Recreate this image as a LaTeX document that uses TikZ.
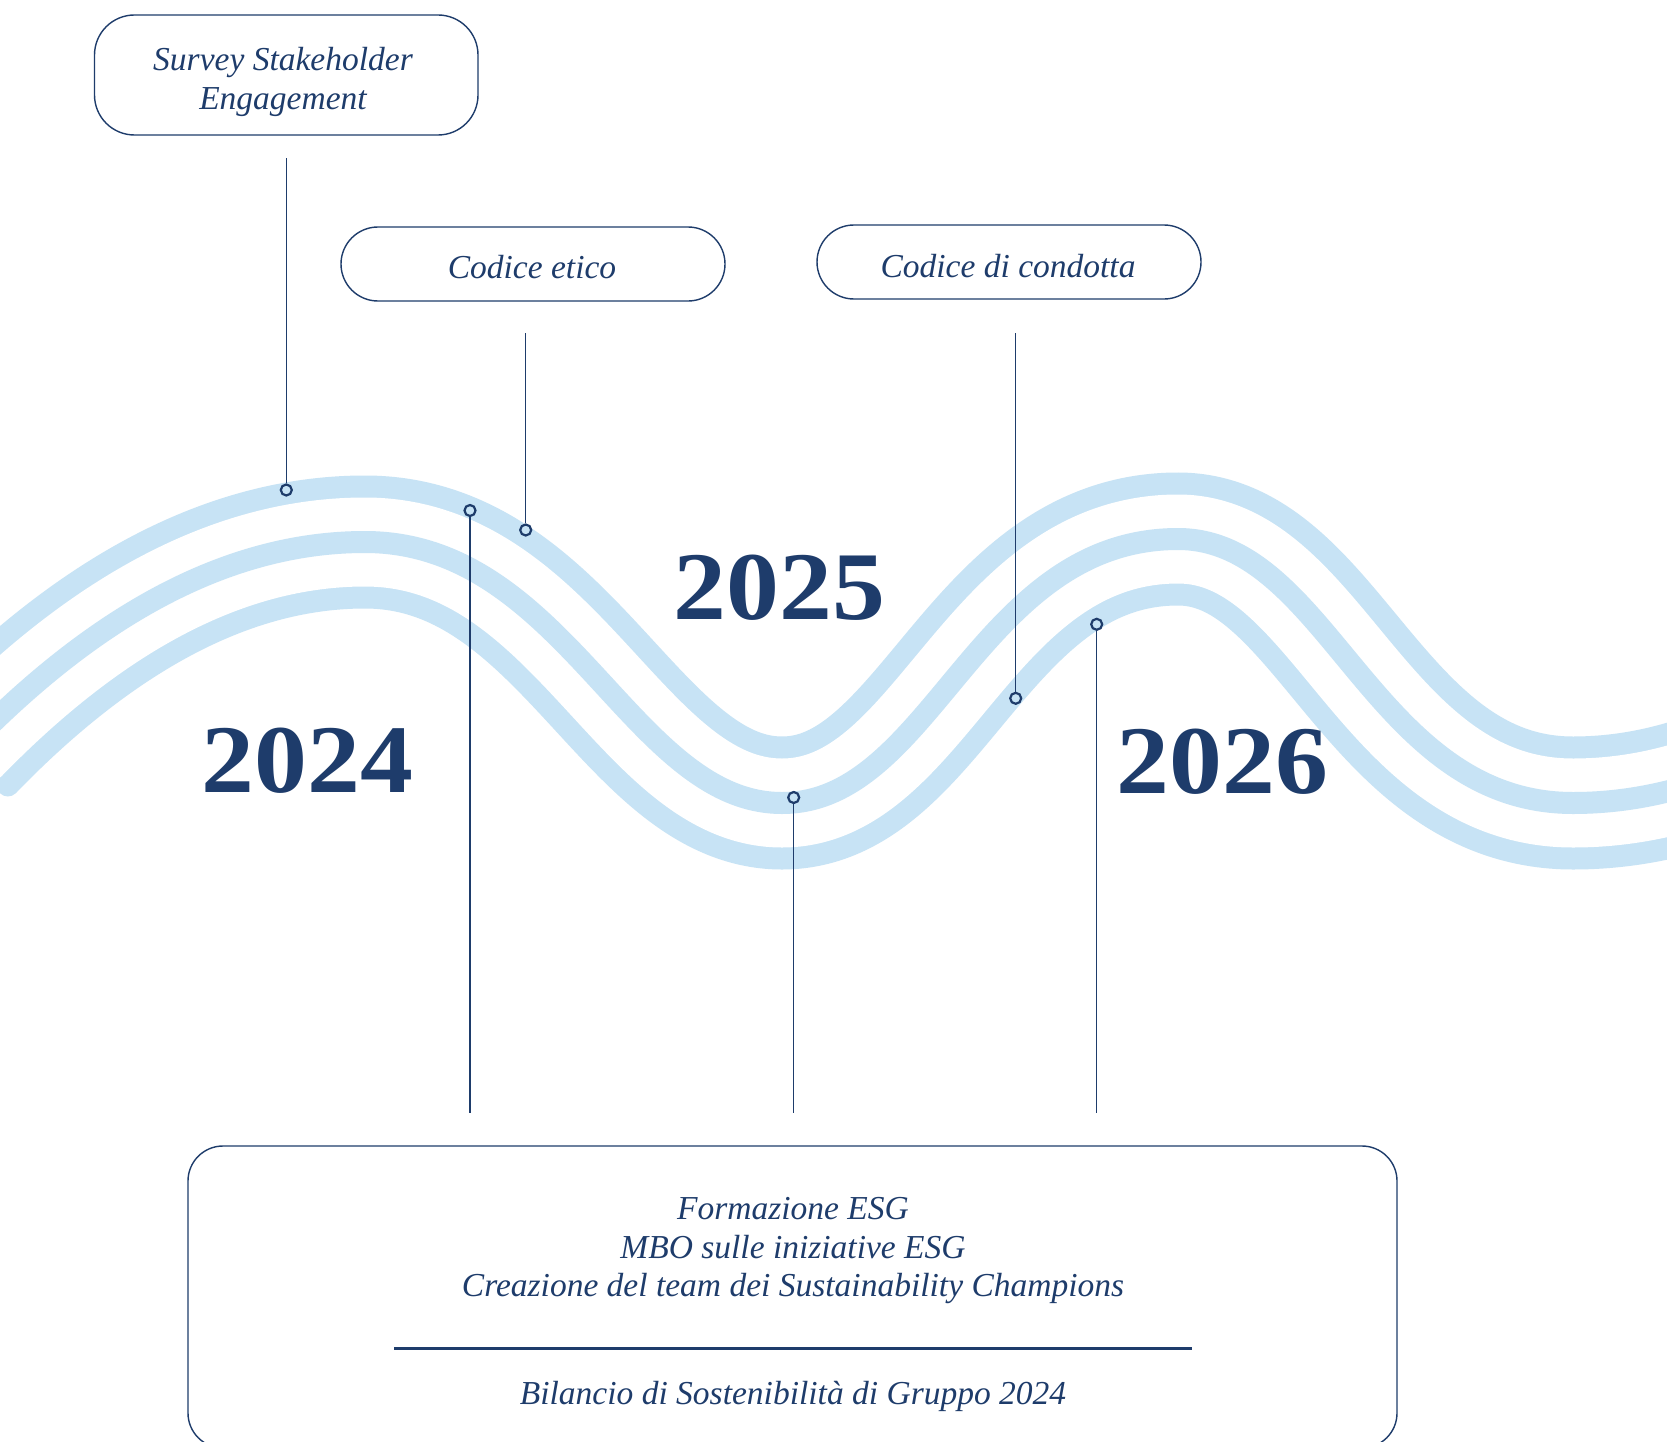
\documentclass[tikz,border=0pt]{standalone}
\usepackage{fontspec}
\setmainfont{Liberation Serif}
\definecolor{navy}{HTML}{1E3C6B}
\definecolor{wavecol}{HTML}{C7E3F5}
\tikzset{
  box/.style={draw=navy, line width=1.4pt, rounded corners=40pt, inner sep=0pt},
  pill/.style={draw=navy, line width=1.4pt, rounded corners=37pt, inner sep=0pt,
               minimum width=384pt, minimum height=74pt},
  lbl/.style={text=navy, font=\fontsize{33.5}{39.3}\selectfont\itshape, inner sep=0pt},
  year/.style={text=navy, font=\fontsize{97}{97}\selectfont\bfseries, inner sep=0pt,
               anchor=base, xscale=1.09},
  dot/.style={circle, draw=navy, line width=2.2pt, inner sep=0pt, minimum size=11pt},
  conn/.style={draw=navy, line width=1.3pt},
}
\def\wavepath{(-32,746.9) .. controls (100.33,610.3) and (232.67,542) .. (365,542)
  .. controls (565,542) and (632,803) .. (782,803)
  .. controls (932,803) and (978,539) .. (1178,539)
  .. controls (1328,539) and (1373,803) .. (1573,803)
  .. controls (1618.7,803) and (1664.3,794.9) .. (1710,778.6)}
\begin{document}
\begin{tikzpicture}[x=1pt,y=-1pt]
\useasboundingbox[fill=white] (0,0) rectangle (1667,1442);
\clip (0,0) rectangle (1667,1442);

% waves: three parallel bands
\draw[wavecol, line width=133pt] \wavepath;
\draw[white, line width=89pt] \wavepath;
\draw[wavecol, line width=22pt] \wavepath;
\fill[wavecol] (7.86,785.5) circle (11pt);

% boxes
\node[box, minimum width=383.5pt, minimum height=120pt] (survey) at (286.25,75) {};
\node[lbl, align=center] (surveyt) at (283,81.6) {Survey Stakeholder\\Engagement};
\node[pill] (etico) at (533,264) {};
\node[lbl, anchor=base] (eticot) at (532,278.3) {Codice etico};
\node[pill] (condotta) at (1009,262) {};
\node[lbl, anchor=base] (condottat) at (1008,277.7) {Codice di condotta};

\node[box, rounded corners=35pt, minimum width=1209pt, minimum height=302pt] (bottom) at (792.5,1297) {};
\node[lbl, align=center, font=\fontsize{33.5}{38.3}\selectfont\itshape] (bottomt) at (793,1250.7)
  {Formazione ESG\\MBO sulle iniziative ESG\\Creazione del team dei Sustainability Champions};
\draw[navy, line width=3pt] (394,1348) -- (1192,1348);
\node[lbl, anchor=base] (bilancio) at (793,1404) {Bilancio di Sostenibilità di Gruppo 2024};

% years
\node[year] (y2024) at (307.5,792) {2024};
\node[year] (y2025) at (779.5,619) {2025};
\node[year] (y2026) at (1222.5,793) {2026};

% markers
\node[dot] (c1) at (286.3,490) {};
\node[dot] (c2) at (470,510.5) {};
\node[dot] (c3) at (525.7,530) {};
\node[dot] (c4) at (793.7,797.5) {};
\node[dot] (c5) at (1015.7,698.3) {};
\node[dot] (c6) at (1096.7,624.3) {};

% connectors
\draw[conn, shorten >=22pt] (c1) -- (c1 |- survey.south);
\draw[conn, shorten >=31pt] (c3) -- (c3 |- etico.south);
\draw[conn, shorten >=33pt] (c5) -- (c5 |- condotta.south);
\draw[conn, shorten >=32pt] (c2) -- (c2 |- bottom.north);
\draw[conn, shorten >=32pt] (c4) -- (c4 |- bottom.north);
\draw[conn, shorten >=32pt] (c6) -- (c6 |- bottom.north);
\end{tikzpicture}
\end{document}
